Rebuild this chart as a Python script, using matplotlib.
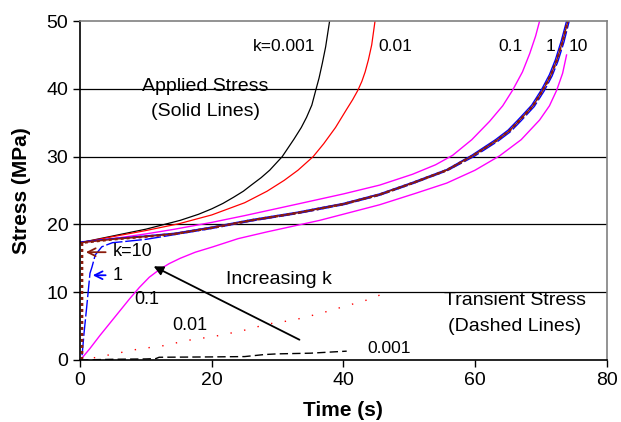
import matplotlib
matplotlib.use("Agg")
import matplotlib.pyplot as plt

plt.rcParams['font.family'] = ['Liberation Sans', 'DejaVu Sans']

# applied stress (solid lines)
t_k0001 = [0, 5, 10, 15.2, 18, 20, 21.7, 23.3, 24.8, 26, 27.5, 28.8, 30.7, 32.5, 33.6, 34.4, 35.2, 35.8, 36.3, 36.8, 37.3, 37.9]
s_k0001 = [17.3, 18.3, 19.3, 20.6, 21.5, 22.3, 23.1, 24.0, 24.9, 25.8, 26.9, 28.0, 30.0, 32.6, 34.3, 35.8, 37.6, 39.8, 41.6, 43.8, 46.2, 50.0]

t_k001 = [0, 5, 10, 15, 20, 25, 28.4, 31, 33.1, 35.4, 37, 38.8, 40.5, 41.4, 42.2, 42.8, 43.3, 43.8, 44.3, 44.8]
s_k001 = [17.3, 18.2, 19.1, 20.1, 21.4, 23.2, 24.9, 26.5, 28.0, 30.0, 31.9, 34.3, 37.0, 38.4, 39.8, 41.1, 42.5, 44.3, 46.5, 50.0]

t_k01 = [0, 5, 10, 14.4, 20, 25, 33, 40, 45.5, 50.5, 54, 56.6, 59.5, 62.2, 64.2, 65.7, 67.2, 68.3, 69.2, 69.8]
s_k01 = [17.3, 17.9, 18.6, 19.3, 20.3, 21.3, 23.0, 24.5, 25.8, 27.4, 28.8, 30.2, 32.5, 35.2, 37.5, 39.8, 42.5, 45.2, 47.8, 50.0]

t_k1 = [0, 5, 10, 14.4, 20, 26, 33, 40, 45.5, 50.5, 55.7, 59.5, 63.1, 65.0, 66.6, 68.6, 70.1, 71.3, 72.2, 73.1, 73.9]
s_k1 = [17.4, 17.9, 18.3, 18.7, 19.6, 20.7, 21.8, 23.1, 24.5, 26.2, 28.1, 30.2, 32.5, 33.9, 35.5, 37.6, 39.9, 42.1, 44.3, 47.1, 50.0]

t_k10 = [0, 5, 10, 14.4, 20, 26, 33, 40, 45.5, 50.5, 55.7, 59.6, 63.3, 65.2, 66.8, 68.8, 70.3, 71.5, 72.4, 73.3, 74.1]
s_k10 = [17.3, 17.8, 18.2, 18.6, 19.5, 20.6, 21.7, 23.0, 24.4, 26.1, 28.0, 30.1, 32.4, 33.8, 35.4, 37.5, 39.8, 42.0, 44.2, 47.0, 50.0]

# transient stress (dashed lines)
tr_t_k0001 = [0, 5, 10, 11.5, 12, 20, 25, 28, 30, 35, 40.5]
tr_s_k0001 = [0, 0.1, 0.15, 0.2, 0.4, 0.45, 0.5, 0.8, 0.9, 1.0, 1.3]

tr_t_k001 = [0, 2.6, 8.8, 12.6, 16.4, 20.5, 24.6, 28.5, 32.5, 36.6, 40.5, 44.5, 46.4]
tr_s_k001 = [0, 0.4, 1.6, 2.1, 2.9, 3.5, 4.3, 5.3, 5.9, 6.9, 8.0, 9.1, 10.0]

tr_t_k01 = [0.3, 1.5, 3.0, 4.5, 6, 7.5, 9, 10.5, 12, 13.5, 15.2, 17.5, 20.2, 24, 28.4, 36.4, 45.5,
            51, 55.7, 60, 63.7, 67, 69.8, 71.3, 72.4, 73.3, 73.9]
tr_s_k01 = [0.3, 1.7, 3.6, 5.4, 7.2, 9.0, 10.7, 12.2, 13.3, 14.2, 15.0, 15.9, 16.7, 17.9, 18.9, 20.6, 22.9,
            24.6, 26.1, 28.0, 30.1, 32.5, 35.4, 37.5, 39.8, 42.3, 45.0]

tr_t_k1 = [0.3, 0.6, 1.0, 1.5, 1.8, 2.3, 3.3, 4.9, 7, 10, 14.4, 20, 26, 33, 40, 45.5, 50.5, 55.7,
           59.8, 63.5, 65.4, 67.0, 69.0, 70.5, 71.7, 72.6, 73.5, 74.3]
tr_s_k1 = [0.7, 4.0, 7.8, 12.8, 13.7, 15.5, 16.7, 17.3, 17.5, 17.8, 18.5, 19.4, 20.5, 21.6, 22.9, 24.3,
           26.0, 27.9, 30.0, 32.3, 33.7, 35.3, 37.4, 39.7, 41.9, 44.1, 46.9, 50.0]

tr_t_k10 = [0.3, 0.3] + t_k10[1:]
tr_s_k10 = [0.0, 17.3] + s_k10[1:]

brown = '#8B1C0C'

fig = plt.figure(figsize=(6.21, 4.22), dpi=100)
ax = fig.add_axes([0.129, 0.147, 0.848, 0.803])

for y in [10, 20, 30, 40]:
    ax.axhline(y, color='black', lw=0.9, zorder=0)

ax.plot(t_k0001, s_k0001, color='black', lw=0.9)
ax.plot(t_k001, s_k001, color='red', lw=0.9)
ax.plot(t_k01, s_k01, color='magenta', lw=1.0)
ax.plot(tr_t_k01, tr_s_k01, color='magenta', lw=1.0)
ax.plot(t_k1, s_k1, color='blue', lw=1.0)
ax.plot(tr_t_k1, tr_s_k1, color='blue', lw=1.0, ls=(0, (12, 2)))
ax.plot(t_k10, s_k10, color=brown, lw=1.0)
ax.plot(tr_t_k10, tr_s_k10, color=brown, lw=1.8, ls=(0, (1.2, 1.2)))

ax.plot(tr_t_k0001, tr_s_k0001, color='black', lw=1.0, ls=(0, (6, 3)))
ax.plot(tr_t_k001, tr_s_k001, color='red', lw=1.0, ls=(0, (1, 9)))

num = 12.5
word = 14
ax.text(35.7, 46.2, 'k=0.001', fontsize=num, ha='right', va='center')
ax.text(45.3, 46.2, '0.01', fontsize=num, ha='left', va='center')
ax.text(63.5, 46.2, '0.1', fontsize=num, ha='left', va='center')
ax.text(70.7, 46.2, '1', fontsize=num, ha='left', va='center')
ax.text(74.2, 46.2, '10', fontsize=num, ha='left', va='center')
ax.text(19.0, 40.3, 'Applied Stress', fontsize=word, ha='center', va='center')
ax.text(19.0, 36.6, '(Solid Lines)', fontsize=word, ha='center', va='center')
ax.text(66.0, 8.8, 'Transient Stress', fontsize=word, ha='center', va='center')
ax.text(66.0, 5.0, '(Dashed Lines)', fontsize=word, ha='center', va='center')
ax.text(5.0, 16.0, 'k=10', fontsize=13, ha='left', va='center')
ax.text(5.0, 12.5, '1', fontsize=13, ha='left', va='center')
ax.text(30.2, 11.9, 'Increasing k', fontsize=word, ha='center', va='center')
ax.text(8.3, 8.9, '0.1', fontsize=13, ha='left', va='center')
ax.text(14.0, 5.1, '0.01', fontsize=13, ha='left', va='center')
ax.text(43.7, 1.7, '0.001', fontsize=num, ha='left', va='center')

ax.annotate('', xy=(0.45, 15.9), xytext=(4.3, 15.9),
            arrowprops=dict(arrowstyle='->', color=brown, lw=1.3, mutation_scale=14))
ax.annotate('', xy=(1.5, 12.5), xytext=(4.3, 12.5),
            arrowprops=dict(arrowstyle='->', color='blue', lw=1.3, mutation_scale=14))
ax.annotate('', xy=(10.8, 14.0), xytext=(33.7, 2.8),
            arrowprops=dict(arrowstyle='-|>', color='black', lw=1.3, mutation_scale=14))

ax.set_xlim(0, 80)
ax.set_ylim(0, 50)
ax.set_xticks([0, 20, 40, 60, 80])
ax.set_yticks([0, 10, 20, 30, 40, 50])
ax.tick_params(labelsize=14, direction='out', length=5, width=1)
ax.spines['left'].set_color('black')
ax.spines['bottom'].set_color('black')
ax.spines['top'].set_color('#808080')
ax.spines['right'].set_color('#808080')
for sp in ax.spines.values():
    sp.set_linewidth(1.2)
ax.set_xlabel('Time (s)', fontsize=15, fontweight='bold', labelpad=9)
ax.set_ylabel('Stress (MPa)', fontsize=15, fontweight='bold', labelpad=11)

fig.savefig('out.png', dpi=100)
